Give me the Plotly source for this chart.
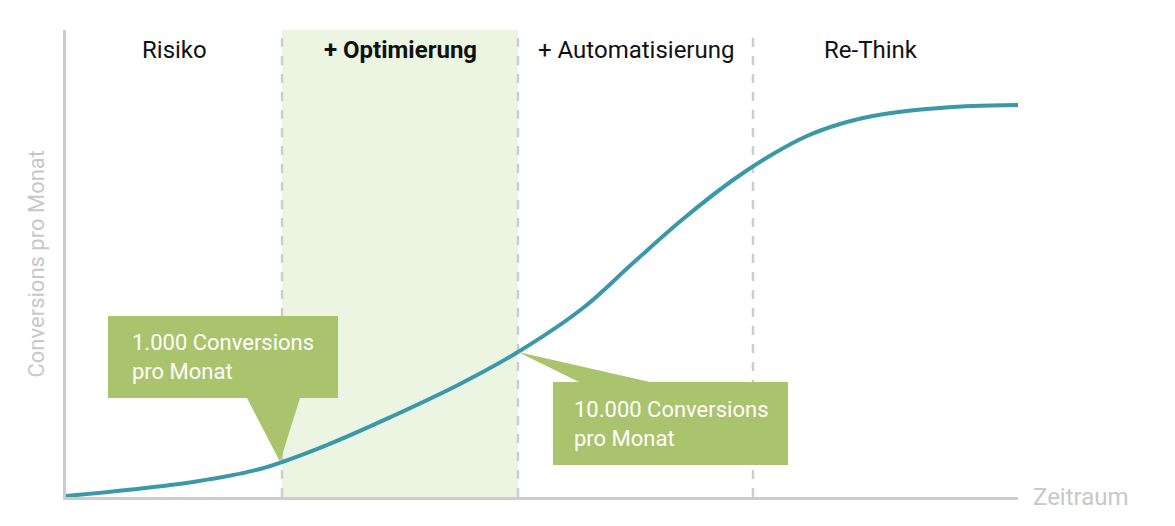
import plotly.graph_objects as go

# ---- data ----
zeit = [0, 61, 127, 194, 261, 327, 394, 452, 517, 567, 617, 667, 707, 741, 774, 807, 841, 874, 907, 952]
conversions = [1, 7, 15, 28, 52, 81, 113, 145, 189, 234, 278, 317, 343, 361, 373, 381, 386, 389, 391, 392]

phasen = ["Risiko", "+ Optimierung", "+ Automatisierung", "Re-Think"]
phasen_grenzen = [0, 216, 452, 687, 922]
callout_texte = ["1.000 Conversions<br>pro Monat", "10.000 Conversions<br>pro Monat"]
callout_punkte = [216, 452]

# ---- styles ----
AXIS = "#cdcdcd"
CURVE = "#3a98a9"
BOX = "#a9c46c"
SHADE = "#ebf5e1"
FONT = "Roboto"

X_MAX, Y_MAX = 952, 467

fig = go.Figure()
fig.add_trace(go.Scatter(
    x=zeit, y=conversions, mode="lines",
    line=dict(color=CURVE, width=4, shape="spline", smoothing=1.0),
    hoverinfo="skip", showlegend=False,
))

shapes = []
shapes.append(dict(type="rect", xref="x", yref="y", x0=phasen_grenzen[1], x1=phasen_grenzen[2],
                   y0=0, y1=Y_MAX, fillcolor=SHADE, line=dict(width=0), layer="below"))
for g in phasen_grenzen[1:4]:
    shapes.append(dict(type="line", xref="x", yref="y", x0=g, x1=g, y0=0, y1=Y_MAX,
                       line=dict(color=AXIS, width=2.5, dash="dash"), layer="below"))

def y_at(xv):
    for i in range(len(zeit) - 1):
        if zeit[i] <= xv <= zeit[i + 1]:
            t = (xv - zeit[i]) / (zeit[i + 1] - zeit[i])
            return conversions[i] + t * (conversions[i + 1] - conversions[i])
    return conversions[-1]

# callout 1 : box above-left, pointer down to curve
tip1 = (callout_punkte[0] - 2, y_at(callout_punkte[0] - 2))
b1 = dict(x0=42, x1=272, y0=99, y1=181)
shapes.append(dict(type="rect", xref="x", yref="y", **b1, fillcolor=BOX, line=dict(width=0)))
shapes.append(dict(type="path", xref="x", yref="y",
                   path=f"M 181 {b1['y0']} L 234 {b1['y0']} L {tip1[0]} {tip1[1]} Z",
                   fillcolor=BOX, line=dict(width=0)))
# callout 2 : box below-right, pointer up to curve
tip2 = (callout_punkte[1], y_at(callout_punkte[1]))
b2 = dict(x0=487, x1=722, y0=32, y1=115)
shapes.append(dict(type="rect", xref="x", yref="y", **b2, fillcolor=BOX, line=dict(width=0)))
shapes.append(dict(type="path", xref="x", yref="y",
                   path=f"M 513 {b2['y1']} L 584 {b2['y1']} L {tip2[0]} {tip2[1]} Z",
                   fillcolor=BOX, line=dict(width=0)))

annotations = []
for i, name in enumerate(phasen):
    xc = (phasen_grenzen[i] + phasen_grenzen[i + 1]) / 2
    annotations.append(dict(x=xc, y=447, xref="x", yref="y", text=(f"<b>{name}</b>" if i == 1 else name),
                            showarrow=False, font=dict(family=FONT, size=24, color="#111111")))

annotations.append(dict(x=b1["x0"] + 22, y=(b1["y0"] + b1["y1"]) / 2, xref="x", yref="y",
                        text=callout_texte[0], showarrow=False, xanchor="left", yanchor="middle", align="left",
                        font=dict(family=FONT, size=22, color="white")))
annotations.append(dict(x=b2["x0"] + 19, y=(b2["y0"] + b2["y1"]) / 2, xref="x", yref="y",
                        text=callout_texte[1], showarrow=False, xanchor="left", yanchor="middle", align="left",
                        font=dict(family=FONT, size=22, color="white")))

annotations.append(dict(x=1.0, xshift=13, y=0, xref="paper", yref="paper", text="Zeitraum", showarrow=False,
                        xanchor="left", yanchor="middle", font=dict(family=FONT, size=24, color="#c8c8c8")))
annotations.append(dict(x=0, xshift=-30, y=0.5, xref="paper", yref="paper", text="Conversions pro Monat",
                        showarrow=False, textangle=-90, xanchor="center", yanchor="middle",
                        font=dict(family=FONT, size=22, color="#c8c8c8")))

fig.update_layout(
    width=1175, height=526,
    margin=dict(l=58, r=165, t=22, b=37),
    paper_bgcolor="white", plot_bgcolor="white",
    shapes=shapes, annotations=annotations,
    xaxis=dict(range=[0, X_MAX], showgrid=False, zeroline=False, showticklabels=False, ticks="",
               showline=True, linecolor=AXIS, linewidth=3),
    yaxis=dict(range=[0, Y_MAX], showgrid=False, zeroline=False, showticklabels=False, ticks="",
               showline=True, linecolor=AXIS, linewidth=3),
)

fig.write_html("out.html")
